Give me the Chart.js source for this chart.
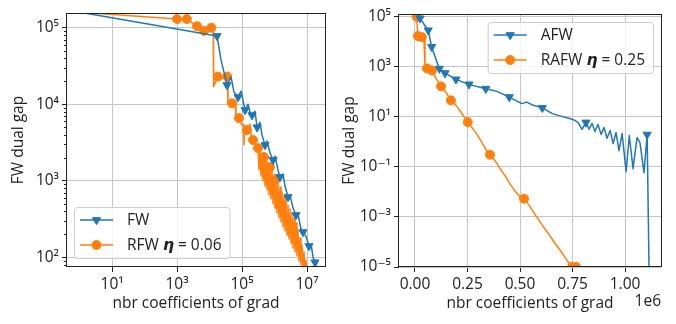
<!DOCTYPE html>
<html>
<head>
<meta charset="utf-8">
<script src="https://cdn.jsdelivr.net/npm/chart.js@4.4.1/dist/chart.umd.min.js"></script>
<style>
  html, body { margin: 0; padding: 0; background: #fff; }
  #wrap { position: relative; width: 676px; height: 324px; }
  canvas { position: absolute; top: 0; }
  #left { left: 0; }
  #right { left: 338px; }
</style>
</head>
<body>
<div id="wrap">
  <canvas id="left" width="338" height="324"></canvas>
  <canvas id="right" width="338" height="324"></canvas>
</div>
<script>
// ---- left panel: FW vs RFW (log-log) ----
const fwX = [1, 1.70e4, 2.26e4, 3.45e4, 4.59e4, 5.67e4, 7.53e4, 9.3e4, 1.24e5, 1.53e5, 1.76e5, 2.03e5, 2.51e5, 2.90e5,
  3.58e5, 4.12e5, 5.1e5, 5.87e5, 7.28e5, 9.0e5, 1.04e6, 1.28e6, 1.48e6, 1.83e6, 2.10e6, 2.60e6, 3.0e6, 3.71e6,
  4.59e6, 5.28e6, 6.53e6, 7.53e6, 9.3e6, 1.15e7, 1.33e7, 1.53e7, 1.76e7, 2.18e7];
const fwY = [1.6e5, 7.8e4, 3.8e4, 1.78e4, 2.27e4, 1.44e4, 1.24e4, 1.49e4, 8.4e3, 1.0e4, 7.9e3, 7.2e3, 8.1e3, 5.0e3,
  5.8e3, 3.95e3, 2.93e3, 3.3e3, 2.3e3, 1.87e3, 2.1e3, 1.38e3, 1.12e3, 1.22e3, 853, 612, 650, 440,
  356, 367, 234, 213, 189, 140, 149, 101, 86, 58];
const fwMarks = [1, 3, 6, 8, 11, 13, 16, 19, 22, 25, 28, 31, 33, 36];

const rfwX = [1, 1.0e3, 2.0e3, 4.1e3, 6.8e3, 1.13e4, 1.3e4, 1.3e4, 1.37e4, 1.8e4, 2.4e4, 3.5e4, 3.7e4, 4.9e4,
  6.1e4, 6.5e4, 8.1e4, 1.0e5, 1.15e5, 1.15e5, 1.24e5, 1.4e5, 1.76e5, 1.89e5, 2.18e5, 2.51e5, 2.7e5,
  3.11e5, 3.33e5, 3.58e5, 3.84e5, 4.12e5, 4.43e5, 4.75e5, 5.10e5, 5.47e5, 5.87e5, 6.31e5, 6.77e5,
  7.27e5, 7.80e5, 8.37e5, 8.99e5, 9.65e5, 1.036e6, 1.11e6, 1.19e6, 1.28e6, 1.37e6, 1.48e6, 1.58e6,
  1.70e6, 1.83e6, 1.96e6, 2.10e6, 2.26e6, 2.43e6, 2.60e6, 2.79e6, 3.00e6, 3.22e6, 3.45e6, 3.71e6,
  3.98e6, 4.27e6, 4.59e6, 4.92e6, 5.28e6, 5.67e6, 6.09e6, 6.53e6, 7.02e6, 7.53e6, 8.09e6, 8.68e6,
  9.31e6, 1.0e7];
const rfwY = [1.6e5, 1.3e5, 1.3e5, 1.05e5, 9.1e4, 1.0e5, 1.0e5, 1.95e4, 1.7e4, 2.3e4, 2.2e4, 2.3e4, 1.03e4, 1.03e4,
  1.1e4, 6.6e3, 6.6e3, 5.3e3, 5.4e3, 2.93e3, 4.9e3, 4.6e3, 5.5e3, 3.95e3, 3.4e3, 3.7e3, 2.75e3,
  2670, 1380, 2440, 1150, 2230, 991, 2040, 853, 1810, 755, 1650, 650,
  1510, 577, 1340, 496, 1190, 440, 1050, 378, 933, 325, 828, 288,
  713, 248, 631, 220, 560, 195, 481, 173, 427, 153, 378, 132,
  325, 117, 280, 104, 227, 89, 178, 79, 144, 68, 117, 62,
  92, 55];
const rfwMarks = [1, 2, 3, 4, 5, 9, 11, 13, 16, 21, 24, 27, 33, 39, 45];

const leftXTicks = [1e1, 1e3, 1e5, 1e7];
const leftYTicks = [1e2, 1e3, 1e4, 1e5];

// ---- right panel: AFW vs RAFW (semilog y) ----
const afwX = [9.5e3, 2.4e4, 6.3e4, 7.95e4, 1.16e5, 1.43e5, 1.95e5, 2.57e5, 3.37e5, 3.9e5, 4.49e5, 5.08e5, 5.32e5,
  5.63e5, 6.06e5, 6.52e5, 6.81e5, 7.52e5, 7.76e5, 7.95e5, 8.14e5, 8.29e5, 8.43e5, 8.57e5, 8.71e5, 8.86e5,
  9.0e5, 9.14e5, 9.29e5, 9.43e5, 9.57e5, 9.71e5, 9.86e5, 1.005e6, 1.02e6, 1.038e6, 1.057e6, 1.071e6,
  1.09e6, 1.105e6, 1.119e6];
const afwY = [1.9e5, 8.7e4, 2.9e4, 6.3e3, 850, 565, 316, 200, 134, 105, 62, 34, 39,
  29, 23, 13.8, 11.5, 7.9, 6.0, 3.2, 6.0, 3.2, 5.5, 2.6, 5.0, 2.0,
  3.8, 1.4, 2.85, 0.86, 2.37, 0.45, 2.16, 0.065, 1.8, 0.085, 1.5, 0.94,
  0.059, 1.97, 1e-8];
const afwMarks = [1, 2, 3, 4, 5, 6, 7, 8, 10, 14, 20, 39];

const rafwX = [8.1e3, 1.43e4, 3.3e4, 4.3e4, 4.76e4, 5.7e4, 8.1e4, 1.0e5, 1.24e5, 1.48e5, 1.71e5, 1.95e5, 2.14e5,
  2.51e5, 2.71e5, 2.95e5, 3.19e5, 3.38e5, 3.57e5, 3.81e5, 4.05e5, 4.29e5, 4.52e5, 4.76e5, 4.95e5, 5.19e5,
  5.48e5, 5.76e5, 6.05e5, 6.33e5, 6.62e5, 6.9e5, 7.19e5, 7.48e5, 7.67e5];
const rafwY = [1.0e5, 1.7e4, 1.55e4, 1.16e4, 1.05e3, 870, 720, 350, 166, 96, 46, 29, 18,
  6.2, 3.8, 2.0, 0.94, 0.49, 0.31, 0.18, 0.085, 0.045, 0.021, 0.011, 0.0071, 0.0054,
  0.0026, 0.0011, 4.8e-4, 2.3e-4, 1.0e-4, 4.8e-5, 2.1e-5, 1.0e-5, 1.0e-5];
const rafwMarks = [0, 1, 2, 5, 6, 8, 10, 13, 18, 25, 33, 34];

const rightXTicks = [0, 0.25e6, 0.5e6, 0.75e6, 1.0e6];
const rightYTicks = [1e-5, 1e-3, 1e-1, 1e1, 1e3, 1e5];

const BLUE = '#1f77b4';
const ORANGE = '#ff7f0e';
const INK = '#222';
const GRID = '#c4c4c4';
const TRI_R = 4.7;
const DOT_R = 4.5;

Chart.defaults.font.family = '"Open Sans", "DejaVu Sans", sans-serif';
Chart.defaults.font.size = 15.5;
Chart.defaults.color = INK;

const sup = {'-': '⁻', '0': '⁰', '1': '¹', '2': '²', '3': '³', '4': '⁴', '5': '⁵', '6': '⁶', '7': '⁷', '8': '⁸', '9': '⁹'};
const pow10 = v => '10' + String(Math.round(Math.log10(v))).split('').map(c => sup[c]).join('');

function series(xs, ys, marks, color, style) {
  const r = style === 'triangle' ? TRI_R : DOT_R;
  return {
    data: xs.map((x, i) => ({x: x, y: ys[i]})),
    borderColor: color,
    backgroundColor: color,
    borderWidth: 1.5,
    borderJoinStyle: 'round',
    pointStyle: style,
    pointRotation: style === 'triangle' ? 180 : 0,
    pointRadius: ctx => marks.includes(ctx.dataIndex) ? r : 0,
    pointHoverRadius: 0,
    pointBorderWidth: 1,
    pointBackgroundColor: color,
    pointBorderColor: color,
    tension: 0,
    fill: false,
    clip: 0
  };
}

function drawLegend(ctx, area, opt) {
  const h = 51;
  const fonts = {
    n: '15.5px "Open Sans", "DejaVu Sans", sans-serif',
    m: 'italic bold 15.5px "DejaVu Sans", sans-serif'
  };
  const widths = opt.entries.map(e => e.parts.reduce((s, p) => { ctx.font = fonts[p[1]]; return s + ctx.measureText(p[0]).width; }, 0));
  const w = 53 + Math.max(...widths) + 8;
  const bx = opt.corner === 'lower left' ? area.left + 7 : area.right - 8 - w;
  const by = opt.corner === 'lower left' ? area.bottom - 9 - h : area.top + 8;

  ctx.beginPath();
  ctx.roundRect(bx + 0.5, by + 0.5, w, h, 3);
  ctx.fillStyle = 'rgba(255,255,255,0.8)';
  ctx.fill();
  ctx.strokeStyle = '#cccccc';
  ctx.lineWidth = 1;
  ctx.stroke();

  opt.entries.forEach((e, i) => {
    const y = by + 13 + i * 25;
    ctx.strokeStyle = e.color;
    ctx.fillStyle = e.color;
    ctx.lineWidth = 1.5;
    ctx.beginPath();
    ctx.moveTo(bx + 6, y);
    ctx.lineTo(bx + 39, y);
    ctx.stroke();
    ctx.lineWidth = 1;
    Chart.helpers.drawPoint(ctx, {
      pointStyle: e.style,
      rotation: e.style === 'triangle' ? 180 : 0,
      radius: e.style === 'triangle' ? TRI_R : DOT_R,
      borderWidth: 1
    }, bx + 22.5, y);
    let tx = bx + 53;
    ctx.fillStyle = INK;
    ctx.textBaseline = 'middle';
    ctx.textAlign = 'left';
    e.parts.forEach(p => {
      ctx.font = fonts[p[1]];
      ctx.fillText(p[0], tx, y + 1);
      tx += ctx.measureText(p[0]).width;
    });
  });
}

const decor = {
  id: 'decor',
  afterDraw(chart, args, o) {
    const ctx = chart.ctx;
    const a = chart.chartArea;
    ctx.save();
    // minor ticks on the log y axis
    if (o.minorY) {
      const s = chart.scales.y;
      ctx.strokeStyle = INK;
      ctx.lineWidth = 1;
      for (let e = Math.floor(Math.log10(s.min)); e <= Math.ceil(Math.log10(s.max)); e++) {
        for (let k = 2; k <= 9; k++) {
          const v = k * Math.pow(10, e);
          if (v < s.min || v > s.max) continue;
          const py = Math.round(s.getPixelForValue(v)) + 0.5;
          ctx.beginPath();
          ctx.moveTo(a.left - 3, py);
          ctx.lineTo(a.left, py);
          ctx.stroke();
        }
      }
    }
    // axes frame
    ctx.strokeStyle = INK;
    ctx.lineWidth = 1;
    ctx.strokeRect(Math.round(a.left) - 0.5, Math.round(a.top) + 0.5, Math.round(a.right - a.left) + 1, Math.round(a.bottom - a.top) - 1);
    // offset text
    if (o.offsetText) {
      ctx.fillStyle = INK;
      ctx.font = '15.5px "Open Sans", "DejaVu Sans", sans-serif';
      ctx.textAlign = 'right';
      ctx.textBaseline = 'middle';
      ctx.fillText(o.offsetText, a.right, 302);
    }
    if (o.legend) drawLegend(ctx, a, o.legend);
    ctx.restore();
  }
};

function gridOpts() {
  return {color: GRID, lineWidth: 1, tickLength: 5, tickColor: INK, tickWidth: 1};
}

new Chart(document.getElementById('left'), {
  type: 'line',
  data: {
    datasets: [
      series(fwX, fwY, fwMarks, BLUE, 'triangle'),
      series(rfwX, rfwY, rfwMarks, ORANGE, 'circle')
    ]
  },
  options: {
    responsive: false,
    animation: false,
    events: [],
    layout: {padding: {left: 0, top: 13, right: 13, bottom: 0}},
    scales: {
      x: {
        type: 'logarithmic', min: 0.41, max: 3.58e7,
        afterBuildTicks: s => { s.ticks = leftXTicks.map(v => ({value: v})); },
        afterFit: s => { s.height = 57; },
        ticks: {callback: v => pow10(v), padding: 3.5, maxRotation: 0, autoSkip: false},
        grid: gridOpts(),
        border: {display: false},
        title: {display: true, text: 'nbr coefficients of grad', padding: {top: 0, bottom: 11.5}}
      },
      y: {
        type: 'logarithmic', min: 74.5, max: 1.56e5,
        afterBuildTicks: s => { s.ticks = leftYTicks.map(v => ({value: v})); },
        afterFit: s => { s.width = 67; },
        ticks: {callback: v => pow10(v), padding: 3, autoSkip: false},
        grid: gridOpts(),
        border: {display: false},
        title: {display: true, text: 'FW dual gap', padding: {top: 9.5, bottom: 0}}
      }
    },
    plugins: {
      legend: {display: false},
      tooltip: {enabled: false},
      decor: {
        minorY: true,
        legend: {
          corner: 'lower left',
          entries: [
            {color: BLUE, style: 'triangle', parts: [['FW', 'n']]},
            {color: ORANGE, style: 'circle', parts: [['RFW ', 'n'], ['η', 'm'], [' = 0.06', 'n']]}
          ]
        }
      }
    }
  },
  plugins: [decor]
});

new Chart(document.getElementById('right'), {
  type: 'line',
  data: {
    datasets: [
      series(afwX, afwY, afwMarks, BLUE, 'triangle'),
      series(rafwX, rafwY, rafwMarks, ORANGE, 'circle')
    ]
  },
  options: {
    responsive: false,
    animation: false,
    events: [],
    layout: {padding: {left: 0, top: 14, right: 15, bottom: 0}},
    scales: {
      x: {
        type: 'linear', min: -7.6e4, max: 1.171e6,
        afterBuildTicks: s => { s.ticks = rightXTicks.map(v => ({value: v})); },
        afterFit: s => { s.height = 57; },
        ticks: {callback: v => (v / 1e6).toFixed(2), padding: 3.5, maxRotation: 0, autoSkip: false},
        grid: gridOpts(),
        border: {display: false},
        title: {display: true, text: 'nbr coefficients of grad', padding: {top: 0, bottom: 11.5}}
      },
      y: {
        type: 'logarithmic', min: 1e-5, max: 1.3e5,
        afterBuildTicks: s => { s.ticks = rightYTicks.map(v => ({value: v})); },
        afterFit: s => { s.width = 61; },
        ticks: {callback: v => pow10(v), padding: 3, autoSkip: false},
        grid: gridOpts(),
        border: {display: false},
        title: {display: true, text: 'FW dual gap', padding: {top: 2.5, bottom: 0}}
      }
    },
    plugins: {
      legend: {display: false},
      tooltip: {enabled: false},
      decor: {
        offsetText: '1e6',
        legend: {
          corner: 'upper right',
          entries: [
            {color: BLUE, style: 'triangle', parts: [['AFW', 'n']]},
            {color: ORANGE, style: 'circle', parts: [['RAFW ', 'n'], ['η', 'm'], [' = 0.25', 'n']]}
          ]
        }
      }
    }
  },
  plugins: [decor]
});
</script>
</body>
</html>
